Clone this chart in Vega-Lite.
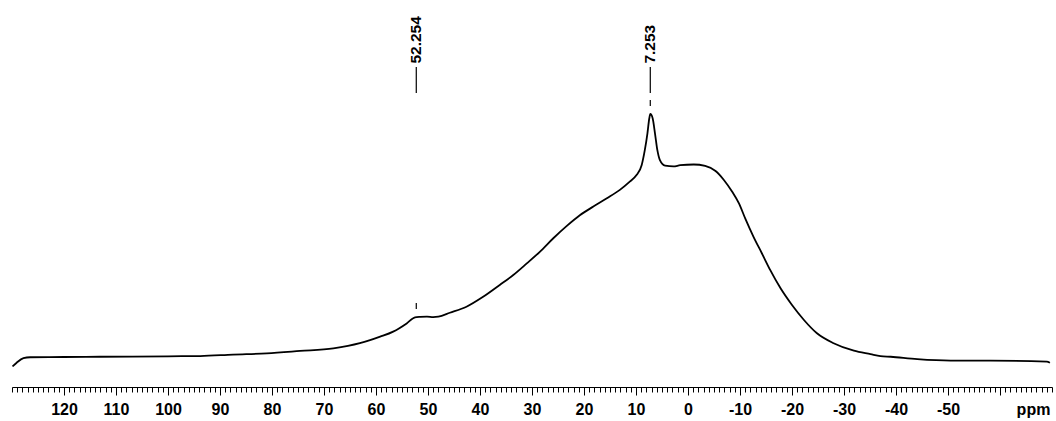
{
  "$schema": "https://vega.github.io/schema/vega-lite/v6.json",
  "autosize": {"type": "none"},
  "padding": {"left": 12, "top": 0, "right": 4, "bottom": 34},
  "width": 1040,
  "height": 387,
  "background": "white",
  "config": {"view": {"stroke": null}},
  "datasets": {
    "spectrum": [
      {"ppm": 129.9, "i": -1.5},
      {"ppm": 129.1, "i": 0.05},
      {"ppm": 127.8, "i": 1.9},
      {"ppm": 126.5, "i": 2.3},
      {"ppm": 120.0, "i": 2.4},
      {"ppm": 113.1, "i": 2.5},
      {"ppm": 100.0, "i": 2.7},
      {"ppm": 93.8, "i": 2.8},
      {"ppm": 87.5, "i": 3.4},
      {"ppm": 81.0, "i": 3.9},
      {"ppm": 74.6, "i": 4.9},
      {"ppm": 68.2, "i": 6.0},
      {"ppm": 63.1, "i": 8.1},
      {"ppm": 59.2, "i": 10.8},
      {"ppm": 56.7, "i": 12.9},
      {"ppm": 54.1, "i": 16.3},
      {"ppm": 52.5, "i": 18.8},
      {"ppm": 51.5, "i": 19.0},
      {"ppm": 50.2, "i": 19.1},
      {"ppm": 49.0, "i": 18.9},
      {"ppm": 48.0, "i": 19.1},
      {"ppm": 45.8, "i": 20.7},
      {"ppm": 42.6, "i": 23.2},
      {"ppm": 39.4, "i": 27.3},
      {"ppm": 36.2, "i": 32.2},
      {"ppm": 33.6, "i": 36.3},
      {"ppm": 31.0, "i": 41.1},
      {"ppm": 28.5, "i": 45.9},
      {"ppm": 25.9, "i": 51.5},
      {"ppm": 23.3, "i": 56.6},
      {"ppm": 20.8, "i": 61.0},
      {"ppm": 18.2, "i": 64.6},
      {"ppm": 15.6, "i": 68.0},
      {"ppm": 13.1, "i": 71.5},
      {"ppm": 11.2, "i": 74.9},
      {"ppm": 9.9, "i": 77.6},
      {"ppm": 8.9, "i": 81.8},
      {"ppm": 8.3, "i": 88.0},
      {"ppm": 7.8, "i": 94.9},
      {"ppm": 7.44, "i": 101.1},
      {"ppm": 7.25, "i": 102.9},
      {"ppm": 6.8, "i": 101.1},
      {"ppm": 6.35, "i": 94.9},
      {"ppm": 5.9, "i": 88.0},
      {"ppm": 5.4, "i": 83.8},
      {"ppm": 4.4, "i": 81.5},
      {"ppm": 2.8, "i": 81.2},
      {"ppm": 1.5, "i": 81.7},
      {"ppm": -1.1, "i": 82.0},
      {"ppm": -3.3, "i": 81.4},
      {"ppm": -5.3, "i": 79.3},
      {"ppm": -6.9, "i": 75.6},
      {"ppm": -8.5, "i": 70.7},
      {"ppm": -9.8, "i": 65.9},
      {"ppm": -11.0, "i": 59.7},
      {"ppm": -12.6, "i": 52.1},
      {"ppm": -14.2, "i": 45.3},
      {"ppm": -15.8, "i": 38.4},
      {"ppm": -17.8, "i": 30.8},
      {"ppm": -20.0, "i": 23.9},
      {"ppm": -22.3, "i": 17.7},
      {"ppm": -24.8, "i": 12.2},
      {"ppm": -28.0, "i": 8.1},
      {"ppm": -31.9, "i": 5.0},
      {"ppm": -35.1, "i": 3.6},
      {"ppm": -37.0, "i": 2.8},
      {"ppm": -39.0, "i": 2.5},
      {"ppm": -44.1, "i": 1.5},
      {"ppm": -50.5, "i": 0.9},
      {"ppm": -58.2, "i": 0.9},
      {"ppm": -69.0, "i": 0.5},
      {"ppm": -69.6, "i": 0.05}
    ],
    "peaks": [
      {"ppm": 52.254, "label": "52.254", "i": 18.9},
      {"ppm": 7.253, "label": "7.253", "i": 102.9}
    ]
  },
  "resolve": {"axis": {"x": "independent"}},
  "layer": [
    {
      "data": {"name": "spectrum"},
      "mark": {"type": "line", "color": "black", "strokeWidth": 1.8, "interpolate": "monotone", "clip": true},
      "encoding": {
        "x": {
          "field": "ppm", "type": "quantitative",
          "scale": {"domain": [-70, 130], "reverse": true, "nice": false, "zero": false},
          "axis": {
            "orient": "bottom",
            "values": [120, 110, 100, 90, 80, 70, 60, 50, 40, 30, 20, 10, 0, -10, -20, -30, -40, -50, -60],
            "grid": false,
            "domain": true, "domainColor": "black", "domainWidth": 1.2,
            "ticks": true, "tickSize": 8, "tickColor": "black", "tickWidth": 1,
            "labelExpr": "datum.value == -60 ? '' : '' + datum.value",
            "labelFont": "Liberation Sans", "labelFontWeight": "bold", "labelFontSize": 16,
            "labelColor": "black", "labelBaseline": "alphabetic", "labelPadding": 19.5,
            "labelFlush": false, "labelOverlap": false,
            "title": "ppm", "titleFont": "Liberation Sans", "titleFontWeight": "bold", "titleFontSize": 16,
            "titleColor": "black", "titleX": 1021, "titleY": 27.5, "titleAlign": "center", "titleBaseline": "alphabetic", "titleAngle": 0
          }
        },
        "y": {
          "field": "i", "type": "quantitative",
          "scale": {"domain": [-10, 150], "nice": false, "zero": false},
          "axis": null
        }
      }
    },
    {
      "data": {"name": "peaks"},
      "mark": {"type": "rule", "color": "black", "strokeWidth": 1.2},
      "encoding": {
        "x": {
          "field": "ppm", "type": "quantitative",
          "axis": {
            "orient": "bottom", "tickCount": 200, "labels": false, "domain": false, "grid": false,
            "tickSize": 5, "tickColor": "black", "tickWidth": 1, "title": null
          }
        },
        "y": {"datum": 111.5, "type": "quantitative"},
        "y2": {"datum": 122.3}
      }
    },
    {
      "data": {"name": "peaks"},
      "mark": {"type": "rule", "color": "black", "strokeWidth": 1.2, "yOffset": -8, "y2Offset": -14},
      "encoding": {
        "x": {"field": "ppm", "type": "quantitative", "axis": null},
        "y": {"field": "i", "type": "quantitative"},
        "y2": {"field": "i"}
      }
    },
    {
      "data": {"name": "peaks"},
      "mark": {"type": "text", "angle": 270, "align": "left", "baseline": "middle", "font": "Liberation Sans", "fontWeight": "bold", "fontSize": 15.5, "color": "black"},
      "encoding": {
        "x": {"field": "ppm", "type": "quantitative", "axis": null},
        "y": {"datum": 123.7, "type": "quantitative"},
        "text": {"field": "label"}
      }
    }
  ]
}
